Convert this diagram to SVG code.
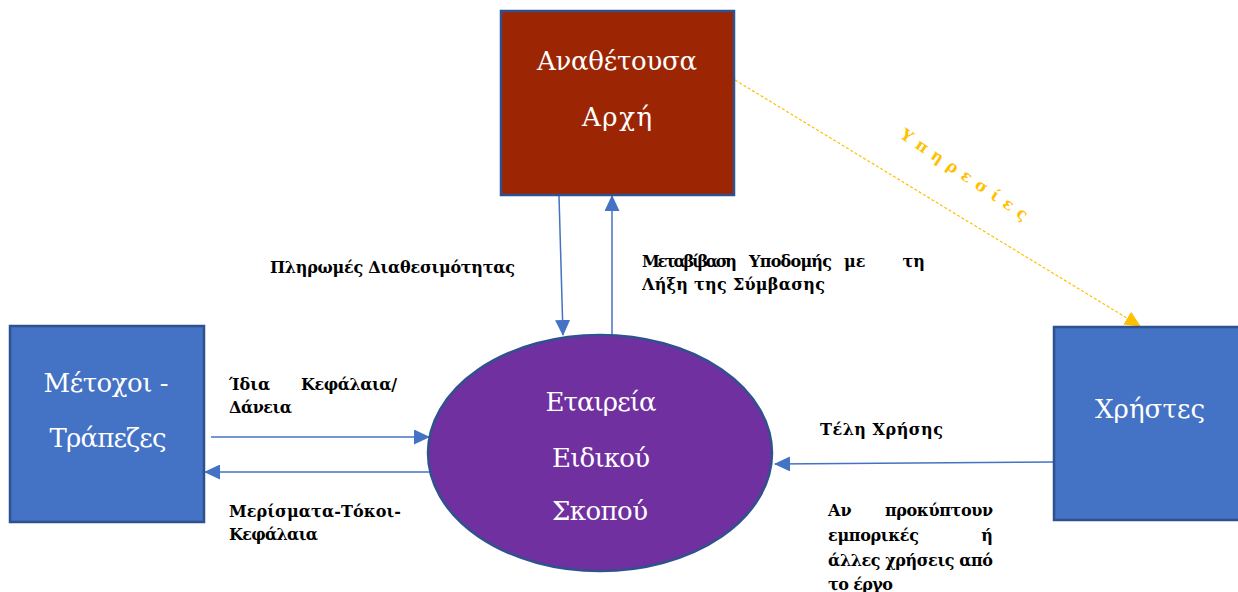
<svg xmlns="http://www.w3.org/2000/svg" width="1238" height="592" viewBox="0 0 1238 592">
<style>
.box{stroke:#2F528F;stroke-width:2.5}
.nt{font-family:"DejaVu Serif","Liberation Serif",serif;font-size:26px;fill:#fff;text-anchor:middle}
.lb{font-family:"DejaVu Serif","Liberation Serif",serif;font-size:16px;font-weight:bold;fill:#000}
.c{stroke:#4472C4;stroke-width:1.5;fill:none}
</style>
<defs>
<marker id="ab" markerWidth="16" markerHeight="15" refX="15" refY="7.5" orient="auto" markerUnits="userSpaceOnUse" viewBox="0 0 16 15"><path d="M0,0L16,7.5L0,15z" fill="#4472C4"/></marker>
<marker id="ay" markerWidth="16" markerHeight="15" refX="15" refY="7.5" orient="auto" markerUnits="userSpaceOnUse" viewBox="0 0 16 15"><path d="M0,0L16,7.5L0,15z" fill="#FFC000"/></marker>
</defs>
<rect width="1238" height="592" fill="#fff"/>
<g id="connectors">
<line class="c" x1="559" y1="196" x2="563" y2="335" marker-end="url(#ab)"/>
<line class="c" x1="612" y1="335" x2="612" y2="196" marker-end="url(#ab)"/>
<line class="c" x1="211" y1="437" x2="429" y2="437" marker-end="url(#ab)"/>
<line class="c" x1="430" y1="472" x2="205" y2="472" marker-end="url(#ab)"/>
<line class="c" x1="1054" y1="462" x2="775" y2="464" marker-end="url(#ab)"/>
<line x1="735" y1="80" x2="1140" y2="326" stroke="#FFC000" stroke-width="1.2" stroke-dasharray="3,2" marker-end="url(#ay)"/>
</g>
<g id="node-anathetousa">
<rect class="box" x="501" y="11" width="233" height="184" fill="#9C2604"/>
<text class="nt" x="617" y="70" textLength="160" lengthAdjust="spacing">Αναθέτουσα</text>
<text class="nt" x="617" y="126" textLength="70" lengthAdjust="spacing">Αρχή</text>
</g>
<g id="node-metoxoi">
<rect class="box" x="10" y="326" width="194" height="196" fill="#4472C4"/>
<text class="nt" x="106" y="392" textLength="125" lengthAdjust="spacing">Μέτοχοι -</text>
<text class="nt" x="108" y="447" textLength="117" lengthAdjust="spacing">Τράπεζες</text>
</g>
<g id="node-xristes">
<rect class="box" x="1054" y="327" width="190" height="193" fill="#4472C4"/>
<text class="nt" x="1150" y="418" textLength="110" lengthAdjust="spacing">Χρήστες</text>
</g>
<g id="node-eee">
<ellipse cx="600" cy="453" rx="172" ry="118" fill="#7030A0" stroke="#2F528F" stroke-width="2.5"/>
<text class="nt" x="601" y="411" textLength="111" lengthAdjust="spacing">Εταιρεία</text>
<text class="nt" x="601" y="467" textLength="98" lengthAdjust="spacing">Ειδικού</text>
<text class="nt" x="600" y="520" textLength="96" lengthAdjust="spacing">Σκοπού</text>
</g>
<g id="labels">
<text class="lb" x="270" y="273" textLength="245" lengthAdjust="spacing">Πληρωμές Διαθεσιμότητας</text>
<text class="lb" x="642" y="267" textLength="95" lengthAdjust="spacing">Μεταβίβαση</text>
<text class="lb" x="749" y="267" textLength="83" lengthAdjust="spacing">Υποδομής</text>
<text class="lb" x="844" y="267">με</text>
<text class="lb" x="925" y="267" text-anchor="end">τη</text>
<text class="lb" x="642" y="290" textLength="183" lengthAdjust="spacing">Λήξη της Σύμβασης</text>
<text class="lb" x="229" y="390">Ίδια</text>
<text class="lb" x="301" y="390" textLength="96" lengthAdjust="spacing">Κεφάλαια/</text>
<text class="lb" x="229" y="413" textLength="63" lengthAdjust="spacing">Δάνεια</text>
<text class="lb" x="229" y="517" textLength="172" lengthAdjust="spacing">Μερίσματα-Τόκοι-</text>
<text class="lb" x="229" y="540" textLength="89" lengthAdjust="spacing">Κεφάλαια</text>
<text class="lb" x="820" y="435" textLength="123" lengthAdjust="spacing">Τέλη Χρήσης</text>
<text class="lb" x="828" y="516">Αν</text>
<text class="lb" x="885" y="516" textLength="108" lengthAdjust="spacing">προκύπτουν</text>
<text class="lb" x="828" y="541" textLength="91" lengthAdjust="spacing">εμπορικές</text>
<text class="lb" x="993" y="541" text-anchor="end">ή</text>
<text class="lb" x="828" y="566" textLength="165" lengthAdjust="spacing">άλλες χρήσεις από</text>
<text class="lb" x="828" y="590" textLength="65" lengthAdjust="spacing">το έργο</text>
<text class="lb" transform="translate(899,137) rotate(34)" textLength="150" lengthAdjust="spacing" style="fill:#FFC000;font-size:16px">Υπηρεσίες</text>
</g>
</svg>
